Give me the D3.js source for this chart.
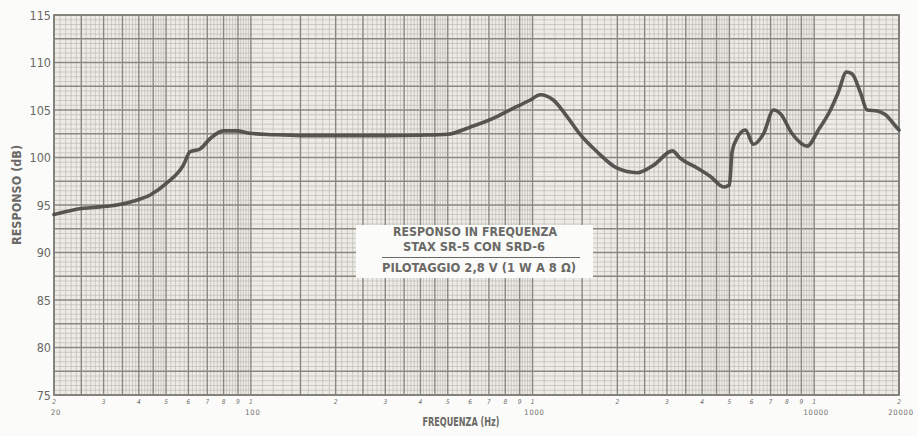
<!DOCTYPE html>
<html><head><meta charset="utf-8">
<script src="https://cdn.jsdelivr.net/npm/d3@7"></script>
<style>
body{margin:0;background:#fbfbf9;}
svg{display:block}
text{font-family:"Liberation Sans Narrow","Arial Narrow","DejaVu Sans Condensed",sans-serif;fill:#6a6966;}
</style>
</head><body><svg id="chart" width="918" height="436"></svg>
<script>
// ---- data ----
const freqs = [20, 25.4, 29.1, 33.4, 39.3, 43.9, 50.2, 57.6, 60.8, 66, 71.7, 79.9, 89.1, 99.4, 120, 150, 200, 300, 400, 500, 601, 747, 787, 982, 1065, 1185, 1326, 1478, 1694, 1990, 2350, 2692, 3137, 3349, 3837, 4281, 4773, 5000, 5111, 5325, 5698, 6082, 6617, 7166, 7588, 8351, 9440, 10351, 11420, 12190, 13015, 13640, 14600, 15420, 16730, 17910, 19700, 20000];
const levels = [94.0, 94.65, 94.8, 95.0, 95.5, 96.05, 97.3, 99.2, 100.6, 100.9, 102.0, 102.8, 102.8, 102.55, 102.4, 102.3, 102.3, 102.3, 102.35, 102.45, 103.2, 104.3, 104.65, 106.05, 106.6, 106.05, 104.3, 102.4, 100.6, 98.9, 98.4, 99.2, 100.7, 99.9, 98.9, 98.0, 96.9, 97.1, 100.6, 102.05, 102.9, 101.4, 102.55, 105.0, 104.6, 102.5, 101.2, 102.9, 105.0, 106.9, 109.0, 108.8, 106.8, 105.0, 104.9, 104.5, 103.1, 102.9];
const yTicks = [75, 80, 85, 90, 95, 100, 105, 110, 115];
const xDigitTicks = [20,30,40,50,60,70,80,90,100,200,300,400,500,600,700,800,900,1000,2000,3000,4000,5000,6000,7000,8000,9000,10000,20000];
const xDigitLabels = ["2","3","4","5","6","7","8","9","1","2","3","4","5","6","7","8","9","1","2","3","4","5","6","7","8","9","1","2"];
const xMainTicks = [20, 100, 1000, 10000, 20000];
const xMainLabels = ["20", "100", "1000", "10000", "20000"];
const legendLines = ["RESPONSO IN FREQUENZA", "STAX SR-5 CON SRD-6", "PILOTAGGIO 2,8 V (1 W A 8 Ω)"];
const xTitle = "FREQUENZA (Hz)";
const yTitle = "RESPONSO (dB)";

// ---- layout ----
const svg = d3.select("#chart");
const L = 54, R = 899, T = 15, B = 395;
const x = d3.scaleLog().domain([20, 20000]).range([L, R]);
const y = d3.scaleLinear().domain([75, 115]).range([B, T]);

// paper
svg.append("rect").attr("x", L).attr("y", T).attr("width", R - L).attr("height", B - T).attr("fill", "#ecebe6");

// grid values
const fineV = [], majorV = [];
[10, 100, 1000, 10000].forEach(d => {
  for (let m = 1; m < 10 - 1e-9; m += (m < 5 - 1e-9 ? 0.1 : 0.2)) {
    const v = +(m * d).toFixed(3);
    if (v < 20 || v > 20000) continue;
    const mr = Math.round(m * 100) / 100;
    const isMajor = Math.abs(mr - Math.round(mr)) < 1e-6 || (mr < 5 && Math.abs(mr * 2 - Math.round(mr * 2)) < 1e-6);
    (isMajor ? majorV : fineV).push(v);
  }
});
majorV.push(20000);
const fineH = d3.range(75, 115.001, 0.5).filter(v => Math.abs(v / 2.5 - Math.round(v / 2.5)) > 1e-6);
const majorH = d3.range(75, 115.001, 2.5);

const g = svg.append("g");
g.selectAll(".fv").data(fineV).join("line")
  .attr("x1", d => x(d)).attr("x2", d => x(d)).attr("y1", T).attr("y2", B)
  .attr("stroke", "#bdbab3").attr("stroke-width", 0.7);
g.selectAll(".fh").data(fineH).join("line")
  .attr("x1", L).attr("x2", R).attr("y1", d => y(d)).attr("y2", d => y(d))
  .attr("stroke", "#bdbab3").attr("stroke-width", 0.7);
g.selectAll(".mv").data(majorV).join("line")
  .attr("x1", d => x(d)).attr("x2", d => x(d)).attr("y1", T).attr("y2", B)
  .attr("stroke", "#8a8781").attr("stroke-width", 1.4);
g.selectAll(".mh").data(majorH).join("line")
  .attr("x1", L).attr("x2", R).attr("y1", d => y(d)).attr("y2", d => y(d))
  .attr("stroke", "#8a8781").attr("stroke-width", 1.4);
// frame
svg.append("rect").attr("x", L).attr("y", T).attr("width", R - L).attr("height", B - T)
  .attr("fill", "none").attr("stroke", "#827f79").attr("stroke-width", 1.8);

// legend box
const lg = svg.append("g");
lg.append("rect").attr("x", 356).attr("y", 225).attr("width", 237).attr("height", 53).attr("fill", "#fbfbf9");
lg.append("line").attr("x1", 382).attr("x2", 580).attr("y1", 257.5).attr("y2", 257.5).attr("stroke", "#6a6966").attr("stroke-width", 1);
const lgPos = [[475, 236, 164], [474, 251, 142], [479, 272, 194]];
lg.selectAll("text").data(legendLines).join("text")
  .attr("x", (d, i) => lgPos[i][0]).attr("y", (d, i) => lgPos[i][1])
  .attr("text-anchor", "middle").attr("font-size", 11.5).attr("font-weight", "bold")
  .attr("textLength", (d, i) => lgPos[i][2]).attr("lengthAdjust", "spacingAndGlyphs")
  .text(d => d);

// curve
const line = d3.line().x((d, i) => x(freqs[i])).y(d => y(d)).curve(d3.curveMonotoneX);
svg.append("path").datum(levels).attr("d", line)
  .attr("fill", "none").attr("stroke", "#4a4946").attr("stroke-width", 3.6)
  .attr("stroke-linejoin", "round").attr("stroke-linecap", "round").attr("opacity", 0.92);

// y axis labels
svg.selectAll(".yl").data(yTicks).join("text")
  .attr("x", 51).attr("y", d => y(d) + 4.5).attr("text-anchor", "end")
  .attr("font-size", 12.5).text(d => d);

// x labels
svg.selectAll(".xd").data(xDigitTicks).join("text")
  .attr("x", d => x(d)).attr("y", 403.5).attr("text-anchor", "middle")
  .attr("font-size", 6.5).attr("font-style", "italic")
  .text((d, i) => xDigitLabels[i]);
svg.selectAll(".xm").data(xMainTicks).join("text")
  .attr("x", d => x(d) + 2).attr("y", 414.5).attr("text-anchor", "middle")
  .attr("font-size", 7.5).attr("letter-spacing", 0.8)
  .text((d, i) => xMainLabels[i]);

// titles
svg.append("text").attr("x", 461).attr("y", 426).attr("text-anchor", "middle")
  .attr("font-size", 12.5).attr("font-weight", "bold").attr("textLength", 77).attr("lengthAdjust", "spacingAndGlyphs")
  .text(xTitle);
svg.append("text").attr("transform", "translate(21,195) rotate(-90)").attr("text-anchor", "middle")
  .attr("font-size", 12).attr("font-weight", "bold").attr("textLength", 100).attr("lengthAdjust", "spacingAndGlyphs")
  .text(yTitle);
</script>
</body></html>
